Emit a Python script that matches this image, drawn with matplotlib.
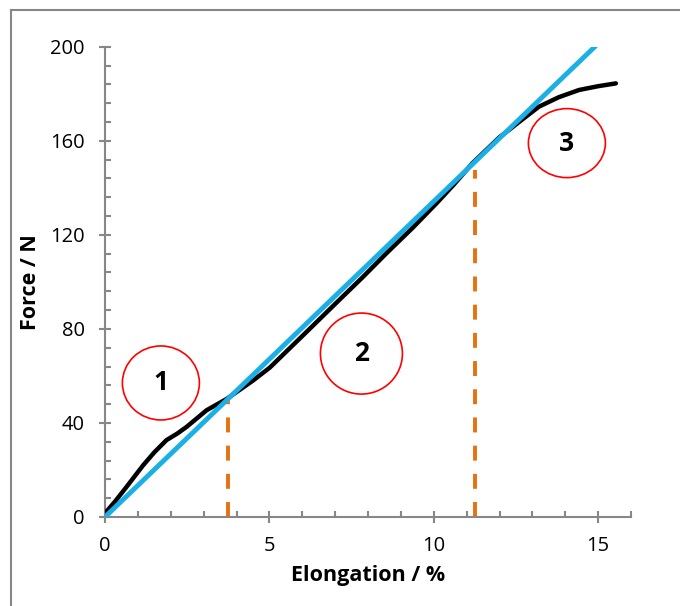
import matplotlib
matplotlib.use("Agg")
import matplotlib.pyplot as plt
from matplotlib.patches import Ellipse
from matplotlib.lines import Line2D
from matplotlib.ticker import MultipleLocator

plt.rcParams['font.family'] = ['Open Sans', 'DejaVu Sans']

# Measured force-elongation curve
elong = [0.0, 0.3, 0.66, 1.16, 1.5, 1.87, 2.2, 2.48, 3.09, 3.7, 4.5, 5.01, 6.02, 7.03, 7.84,
         8.55, 9.36, 10.07, 10.6, 11.18, 12.0, 12.8, 13.2, 13.8, 14.42, 15.0, 15.54]
force = [1.6, 6.5, 12.9, 22.0, 27.5, 32.7, 35.5, 38.3, 45.4, 50.2, 58.0, 63.5, 77.2, 91.0, 102.0,
         112.0, 123.0, 133.2, 141.2, 150.5, 161.5, 170.2, 174.5, 178.5, 181.6, 183.2, 184.4]

# Linear fit line
fit_x = [0.0, 14.9]
fit_y = [0.0, 200.0]

# Region boundaries (vertical dashed lines)
bound_x = [3.73, 11.25]
bound_top = [50.0, 147.5]

# Region labels
region_labels = ["1", "2", "3"]
region_x = [1.70, 7.80, 14.05]
region_y = [57.0, 69.5, 159.0]

fig = plt.figure(figsize=(6.8, 6.06), dpi=100)
ax = fig.add_axes([105/680, 1-517/606, (631-105)/680, (517-46.7)/606])

gray = '#878787'
ax.plot(elong, force, color='black', lw=3.2, solid_capstyle='round', zorder=3)
ax.plot(fit_x, fit_y, color='#1AAFE6', lw=3.5, zorder=4, clip_on=True)
for bx, bt in zip(bound_x, bound_top):
    ax.plot([bx, bx], [0, bt], color='#E8710F', lw=2.8, dashes=(3.85, 3.4), zorder=2)

px_x = 526/16  # pixels per data unit x
px_y = (517-46.7)/200
sizes = [(77, 74), (82, 81), (77, 69)]
for lab, cx, cy, (w, h) in zip(region_labels, region_x, region_y, sizes):
    ax.add_patch(Ellipse((cx, cy), w/px_x, h/px_y, fill=False, edgecolor='#FF0000', lw=1.2, zorder=5))
    ax.text(cx, cy, lab, ha='center', va='center', fontsize=19, fontweight='bold', zorder=6)

ax.set_xlim(0, 16)
ax.set_ylim(0, 200)
ax.xaxis.set_major_locator(MultipleLocator(5))
ax.xaxis.set_minor_locator(MultipleLocator(1))
ax.yaxis.set_major_locator(MultipleLocator(40))
ax.yaxis.set_minor_locator(MultipleLocator(8))
for s in ['top', 'right']:
    ax.spines[s].set_visible(False)
for s in ['left', 'bottom']:
    ax.spines[s].set_color(gray)
    ax.spines[s].set_linewidth(1.5)
ax.tick_params(which='major', direction='inout', length=9, width=1.5, color=gray,
               labelsize=14.5)
ax.tick_params(axis='y', which='major', pad=10)
ax.tick_params(axis='x', which='major', pad=9)
ax.tick_params(which='minor', direction='in', length=4, width=1.5, color=gray)
ax.set_xlabel('Elongation / %', fontsize=15.5, fontweight='bold', labelpad=7)
ax.set_ylabel('Force / N', fontsize=15.5, fontweight='bold', labelpad=7)

# outer chart frame
fig.add_artist(Line2D([11/680, 11/680], [1-10/606, 0], color=gray, lw=1.5, transform=fig.transFigure))
fig.add_artist(Line2D([11/680, 1], [1-10/606, 1-10/606], color=gray, lw=1.5, transform=fig.transFigure))

fig.savefig('out.png', dpi=100)
